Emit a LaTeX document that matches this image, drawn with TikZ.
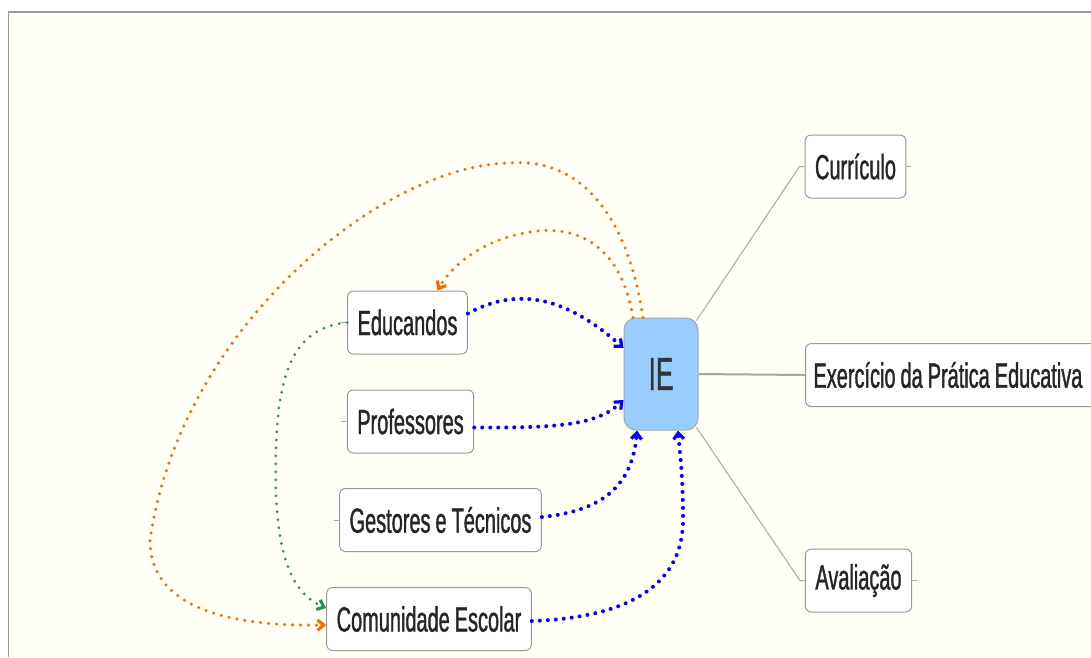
\documentclass[tikz,border=0pt]{standalone}
\usepackage{fontspec}
\setmainfont[FakeStretch=0.57, WordSpace=0.9, FakeBold=1]{Liberation Sans}
\usepackage{tikz}
\usetikzlibrary{arrows.meta}
\definecolor{paper}{HTML}{FFFFF5}
\definecolor{hubblue}{HTML}{99CCFF}
\definecolor{relorange}{HTML}{FF6A00}
\definecolor{relgreen}{HTML}{2E8B57}
\definecolor{framegray}{HTML}{9A9A9A}
\newcommand{\stubline}[2]{
    \draw[gray!70, line width=1pt] (#1) -- ++(#2,0);
}

\begin{document}
\begin{tikzpicture}[x=1pt, y=-1pt,
        topic/.style={draw=gray!80, fill=white, rounded corners=6pt, line width=1pt,
            inner xsep=10pt, minimum height=63pt, text=black!85,
            font=\fontsize{35}{40}\selectfont},
        hub/.style={draw=gray!70, fill=hubblue, rounded corners=12pt, line width=1pt,
            minimum width=74pt, minimum height=112pt, text=black!80,
            font=\fontsize{46}{50}\selectfont},
        branch/.style={gray!70, line width=1pt},
        reldots/.style={line width=4pt, line cap=round, dash pattern=on 0pt off 8pt,
            -{Straight Barb[angle=80:8pt, line width=3.2pt]}}
    ]
        \useasboundingbox (0,0) rectangle (1091,657);
        \fill[white] (0,0) rectangle (1091,657);
        \fill[paper] (8,12) rectangle (1091,657);
        \draw[framegray, line width=2pt] (8,12) -- (1091,12);
        \draw[framegray, line width=1pt] (8,12) -- (8,657);

        \node[hub] (ie) at (661,374) {IE};
        \node[topic] (cur) at (855.5,166.5) {Currículo};
        \node[topic, anchor=west, inner xsep=8pt] (pra) at (805,375) {Exercício da Prática Educativa\rule{24pt}{0pt}};
        \node[topic] (ava) at (858.5,580.5) {Avaliação};
        \node[topic] (edu) at (407.5,322.5) {Educandos};
        \node[topic] (pro) at (410.5,421.5) {Professores};
        \node[topic] (ges) at (440.5,520) {Gestores e Técnicos};
        \node[topic] (com) at (429,619) {Comunidade Escolar};

        % branches
        \draw[branch] ([xshift=-2pt,yshift=-3pt]ie.north east) -- ([xshift=-5pt]cur.west) -- (cur.west);
        \draw[branch, line width=2pt] (ie.east) -- (pra.west);
        \draw[branch] ([xshift=-2pt,yshift=3pt]ie.south east) -- ([xshift=-5pt]ava.west) -- (ava.west);
        \stubline{cur.east}{5}
        \stubline{ava.east}{5}
        \stubline{edu.west}{-6}
        \stubline{pro.west}{-6}
        \stubline{ges.west}{-5}

        % relations into IE
        \draw[reldots, blue] ([yshift=9pt]edu.east) .. controls (525,282) and (575,305) .. ([yshift=26pt]ie.west);
        \draw[reldots, blue] ([yshift=-6pt]pro.east) .. controls (560,428) and (597,425) .. ([yshift=-26pt]ie.west);
        \draw[reldots, blue] ([yshift=3pt]ges.east) .. controls (590,512) and (632,495) .. ([xshift=-24pt]ie.south);
        \draw[reldots, blue] ([yshift=-2pt]com.east) .. controls (620,618) and (683,590) .. (683,520)
            .. controls (683,475) and (680,455) .. ([xshift=17pt]ie.south);

        % relations out of IE
        \draw[reldots, relorange, line width=3.4pt] ([xshift=-18pt]ie.north) .. controls (625,200) and (570,158) .. (510,163)
            .. controls (380,165) and (180,330) .. (150,540)
            .. controls (150,620) and (260,626) .. ([yshift=-6pt]com.west);
        \draw[reldots, relorange, line width=3.4pt] ([xshift=-28pt]ie.north) .. controls (620,240) and (572,225) .. (530,232)
            .. controls (490,238) and (455,260) .. ([xshift=30pt]edu.north);

        % Educandos to Comunidade
        \draw[reldots, relgreen, line width=3pt] (edu.west) .. controls (290,328) and (278,380) .. (276,450)
            .. controls (273,545) and (288,592) .. ([yshift=11pt]com.west);
    \end{tikzpicture}
\end{document}
